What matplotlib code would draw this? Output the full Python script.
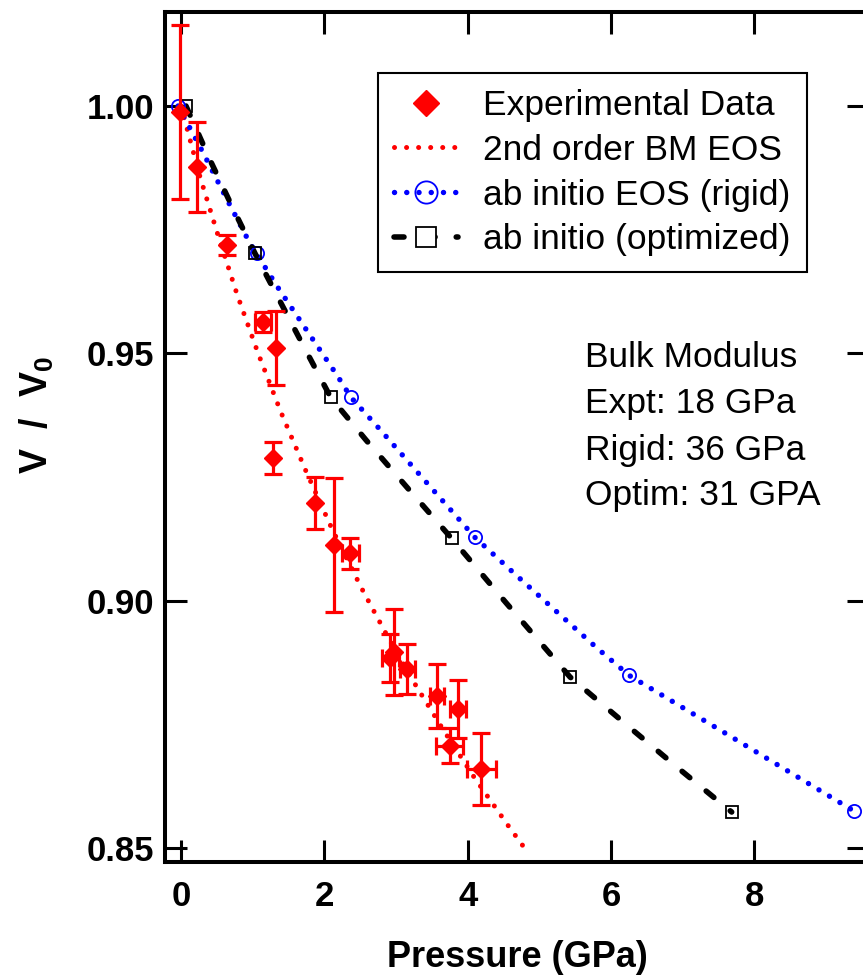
import numpy as np
import matplotlib
matplotlib.use('Agg')
import matplotlib.pyplot as plt
from matplotlib.lines import Line2D

plt.rcParams['font.family'] = ['Liberation Sans', 'DejaVu Sans']
plt.rcParams['mathtext.fontset'] = 'custom'
plt.rcParams['mathtext.rm'] = 'Liberation Sans'
plt.rcParams['mathtext.bf'] = 'Liberation Sans:bold'

# ---------------- data ----------------
expt_P = [-0.02, 0.22, 0.64, 1.14, 1.32, 1.28, 1.87, 2.14, 2.36, 2.92, 2.97, 3.16, 3.57, 3.86, 3.75, 4.19]
expt_V = [0.9988, 0.9877, 0.9719, 0.9563, 0.9511, 0.9289, 0.9198, 0.9113, 0.9096,
          0.8884, 0.8896, 0.8862, 0.8807, 0.8781, 0.8707, 0.8660]
expt_Verr = [0.0176, 0.0091, 0.0020, 0.0020, 0.0074, 0.0032, 0.0052, 0.0135, 0.0031,
             0.0048, 0.0087, 0.0050, 0.0065, 0.0059, 0.0035, 0.0072]
expt_Perr = [0.0, 0.0, 0.0, 0.11, 0.0, 0.0, 0.0, 0.0, 0.12,
             0.12, 0.0, 0.11, 0.10, 0.11, 0.19, 0.20]

bm_P = [0.0, 0.265, 0.516, 0.781, 1.074, 1.395, 1.744, 2.111, 2.521, 2.878, 3.255, 3.660, 4.092, 4.553, 4.82]
bm_V = [1.0, 0.9857, 0.9739, 0.9620, 0.9501, 0.9381, 0.9262, 0.9144, 0.9025, 0.8929, 0.8834, 0.8739, 0.8643, 0.8548, 0.8495]

rigid_P = [-0.04, 0.307, 0.628, 0.949, 1.339, 1.762, 2.181, 2.372, 2.772, 3.311, 4.102, 4.69, 5.80, 6.255, 7.553, 9.39]
rigid_V = [1.0, 0.9906, 0.9815, 0.9726, 0.9636, 0.9545, 0.9455, 0.9411, 0.9347, 0.9258, 0.9128, 0.9050, 0.8905, 0.8849, 0.8736, 0.8575]
rigid_mk_P = [-0.04, 1.06, 2.372, 4.102, 6.255, 9.39]
rigid_mk_V = [1.0, 0.9702, 0.9411, 0.9128, 0.8849, 0.8575]

opt_P = [0.07, 0.405, 0.716, 1.033, 1.372, 1.716, 2.089, 2.581, 3.149, 3.777, 4.535, 5.428, 6.334, 6.986, 7.684]
opt_V = [1.0, 0.9891, 0.9796, 0.9702, 0.9608, 0.9513, 0.9411, 0.9325, 0.9230, 0.9126, 0.8996, 0.8846, 0.8735, 0.8656, 0.8573]
opt_mk_P = [0.07, 1.033, 2.089, 3.777, 5.428, 7.684]
opt_mk_V = [1.0, 0.9702, 0.9411, 0.9126, 0.8846, 0.8573]

x_ticks = [0, 2, 4, 6, 8]
y_ticks = [0.85, 0.90, 0.95, 1.00]
legend_labels = ['Experimental Data', '2nd order BM EOS', 'ab initio EOS (rigid)', 'ab initio (optimized)']
note_lines = ['Bulk Modulus', 'Expt: 18 GPa', 'Rigid: 36 GPa', 'Optim: 31 GPA']

# ---------------- figure ----------------
fig = plt.figure(figsize=(8.63, 9.77), dpi=100)
ax = fig.add_axes([165 / 863, 115 / 977, 704 / 863, 850 / 977])

red_dot = dict(color='red', lw=3.6, linestyle=(0, (0.01, 2.4)), dash_capstyle='round')
blue_dot = dict(color='blue', lw=3.9, linestyle=(0, (0.01, 2.25)), dash_capstyle='round')
black_dash = dict(color='black', lw=4.0, linestyle=(0, (1.8, 3.8)), dash_capstyle='round')

ax.plot(bm_P, bm_V, zorder=2, **red_dot)
ax.plot(rigid_P, rigid_V, zorder=2, **blue_dot)
ax.plot(opt_P, opt_V, zorder=2, **black_dash)
ax.plot(rigid_mk_P, rigid_mk_V, ls='none', marker='o', ms=9.5, mfc='none', mec='blue', mew=1.3, zorder=3)
ax.plot(opt_mk_P, opt_mk_V, ls='none', marker='s', ms=8.5, mfc='none', mec='black', mew=1.3, zorder=3)

P = np.array(expt_P); V = np.array(expt_V)
Pe = np.array(expt_Perr); Ve = np.array(expt_Verr)
ax.errorbar(P, V, yerr=Ve, fmt='D', color='red', ms=9, ecolor='red',
            elinewidth=2.3, capsize=6.5, capthick=2.3, zorder=5)
m = Pe > 0
ax.errorbar(P[m], V[m], xerr=Pe[m], fmt='none', ecolor='red',
            elinewidth=2.3, capsize=6.5, capthick=2.3, zorder=5)

ax.set_xlim(-0.223, 9.6)
ax.set_ylim(0.8472, 1.019)
ax.set_xticks(x_ticks)
ax.set_yticks(y_ticks)
ax.set_xticklabels([str(t) for t in x_ticks])
ax.set_yticklabels(['%.2f' % t for t in y_ticks])
ax.tick_params(axis='both', direction='in', length=16, width=2.2, top=True, right=True, labelsize=25)
ax.tick_params(axis='x', pad=13)
ax.tick_params(axis='y', pad=8)
for lab in ax.get_xticklabels() + ax.get_yticklabels():
    lab.set_fontweight('bold')
for sp in ax.spines.values():
    sp.set_linewidth(2.9)

ax.set_xlabel('Pressure (GPa)', fontsize=26, fontweight='bold')
ax.set_ylabel(r'V  /  V$_\mathbf{0}$', fontsize=27, fontweight='bold')
ax.xaxis.set_label_coords(0.5, -0.092)
ax.yaxis.set_label_coords(-0.155, 0.526)

handles = [
    Line2D([], [], ls='none', marker='D', color='red', ms=13),
    Line2D([], [], **red_dot),
    Line2D([], [], marker='o', ms=16, mfc='none', mec='blue', mew=1.3, **blue_dot),
    Line2D([], [], marker='s', ms=15, mfc='white', mec='black', mew=1.3, **black_dash),
]
leg = ax.legend(handles, legend_labels, loc='upper left', bbox_to_anchor=(0.3026, 0.928),
                borderaxespad=0, fontsize=25.5, frameon=True, fancybox=False, edgecolor='black',
                framealpha=1, handlelength=1.8, handletextpad=0.72, labelspacing=0.33, borderpad=0.45)
leg.get_frame().set_linewidth(1.5)

note_y = [0.594, 0.540, 0.4847, 0.4306]
for txt, yy in zip(note_lines, note_y):
    ax.text(0.5966, yy, txt, transform=ax.transAxes, fontsize=25.5, ha='left', va='center')

fig.savefig('out.png', dpi=100)
